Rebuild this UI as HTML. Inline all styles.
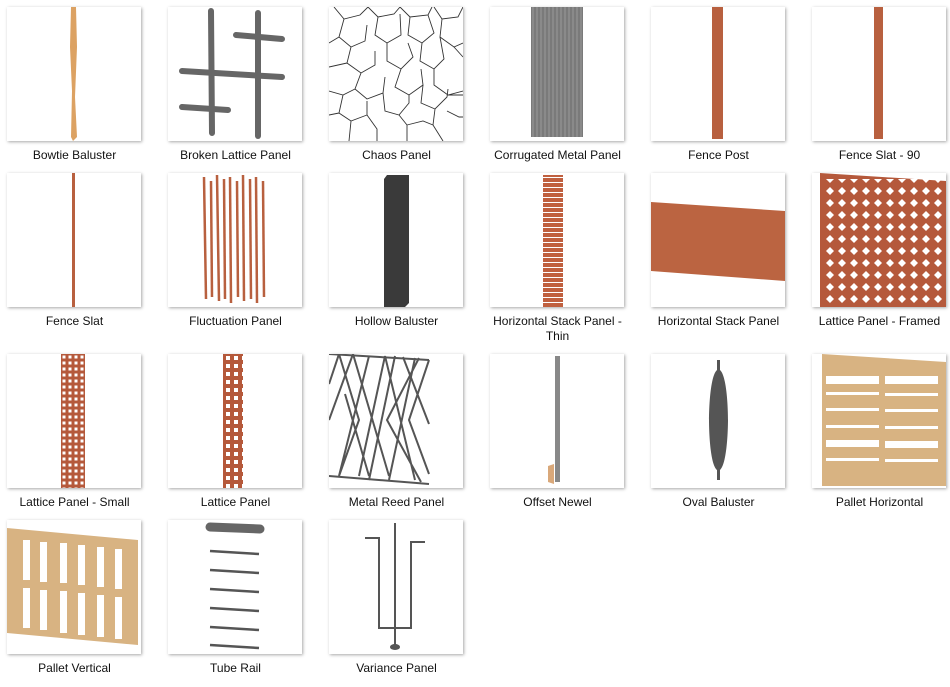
<!DOCTYPE html><html><head><style>
body{margin:0;width:950px;height:687px;background:#fff;position:relative;overflow:hidden;font-family:"Liberation Sans",sans-serif}
.t{position:absolute;width:134px;height:134px;background:#fff;box-shadow:1px 1px 3px rgba(0,0,0,.35)}
.t svg{position:absolute;left:0;top:0}
.l{position:absolute;width:161px;text-align:center;font-size:12px;color:#111;line-height:15px}
</style></head><body>
<!-- Row 1 -->
<div class="t" style="left:7px;top:7px"><svg width="134" height="134"><path d="M64 0h5l1 40-2 50 2 40-4 4-2-4 1-46-2-44z" fill="#dca263"/></svg></div>
<div class="l" style="left:-6px;top:148px">Bowtie Baluster</div>
<div class="t" style="left:168px;top:7px"><svg width="134" height="134" stroke="#666" stroke-width="6" stroke-linecap="round"><line x1="43" y1="4" x2="44" y2="126"/><line x1="90" y1="6" x2="90" y2="129"/><line x1="14" y1="64" x2="114" y2="70"/><line x1="68" y1="28" x2="114" y2="32"/><line x1="14" y1="100" x2="60" y2="103"/></svg></div>
<div class="l" style="left:155px;top:148px">Broken Lattice Panel</div>
<div class="t" style="left:329px;top:7px"><svg width="134" height="134" fill="none" stroke="#333" stroke-width="0.9">
<path d="M5 0l10 12 16-4 8-8M15 12l-5 18 12 10 14-6 2-16M39 0l10 10 16-3 6-7M49 10l-3 18 12 8 14-8-1-21M71 0l10 10 18-2 4-8M81 10l-2 18 14 8 12-10-6-18M105 0l8 12 16-2 5-10M113 12l-2 18 14 10 9-4"/>
<path d="M0 36l10-6M22 40l-4 16 14 10 14-8 0-14M58 36l0 18 14 8 12-12-5-14M93 36l-2 18 14 8 10-10 -4-22M125 40l9 10M0 60l18-4M32 66l-6 16 12 10 16-6 2-16M72 62l-6 18 14 8 14-10-2-16M105 62l0 16 14 10 15-4M0 84l14 4 12-6"/>
<path d="M14 88l-4 18 12 8 16-6 0-14M54 86l2 18 14 4 10-12 0-8M94 78l-2 18 14 6 12-12 1-8M118 88l16 0M0 108l10-2M22 114l-2 20M38 108l10 14 0 12M70 108l8 10 0 16M106 102l-2 16 10 16M118 104l12 6 4 0M78 118l16-4 10 4"/>
</svg></div>
<div class="l" style="left:316px;top:148px">Chaos Panel</div>
<div class="t" style="left:490px;top:7px"><svg width="134" height="134"><rect x="41" y="0" width="52" height="130" fill="#8a8a8a"/><rect x="41" y="0" width="52" height="130" fill="url(#c)"/><defs><pattern id="c" width="4" height="4" patternUnits="userSpaceOnUse"><rect width="2" height="4" fill="#7a7a7a"/></pattern></defs></svg></div>
<div class="l" style="left:477px;top:148px">Corrugated Metal Panel</div>
<div class="t" style="left:651px;top:7px"><svg width="134" height="134"><rect x="61" y="0" width="11" height="132" fill="#b8603f"/></svg></div>
<div class="l" style="left:638px;top:148px">Fence Post</div>
<div class="t" style="left:812px;top:7px"><svg width="134" height="134"><rect x="62" y="0" width="9" height="132" fill="#b8603f"/></svg></div>
<div class="l" style="left:799px;top:148px">Fence Slat - 90</div>
<!-- Row 2 -->
<div class="t" style="left:7px;top:173px"><svg width="134" height="134"><rect x="65" y="0" width="3" height="134" fill="#b8603f"/></svg></div>
<div class="l" style="left:-6px;top:314px">Fence Slat</div>
<div class="t" style="left:168px;top:173px"><svg width="134" height="134" stroke="#b8603f" stroke-width="2.5"><line x1="36" y1="4" x2="38" y2="126"/><line x1="43" y1="8" x2="44" y2="124"/><line x1="49" y1="2" x2="51" y2="128"/><line x1="56" y1="6" x2="57" y2="126"/><line x1="62" y1="4" x2="63" y2="130"/><line x1="69" y1="8" x2="70" y2="124"/><line x1="75" y1="2" x2="76" y2="128"/><line x1="82" y1="6" x2="83" y2="126"/><line x1="88" y1="4" x2="89" y2="130"/><line x1="95" y1="8" x2="96" y2="124"/></svg></div>
<div class="l" style="left:155px;top:314px">Fluctuation Panel</div>
<div class="t" style="left:329px;top:173px"><svg width="134" height="134"><path d="M55 6l3-4h22v128l-4 4h-21z" fill="#3a3a3a"/></svg></div>
<div class="l" style="left:316px;top:314px">Hollow Baluster</div>
<div class="t" style="left:490px;top:173px"><svg width="134" height="134"><rect x="53" y="2" width="20" height="132" fill="#c0603f"/><rect x="53" y="2" width="20" height="132" fill="url(#hs)"/><defs><pattern id="hs" width="4" height="5" patternUnits="userSpaceOnUse"><rect y="4" width="4" height="1.2" fill="#fff"/></pattern></defs></svg></div>
<div class="l" style="left:477px;top:314px">Horizontal Stack Panel -<br>Thin</div>
<div class="t" style="left:651px;top:173px"><svg width="134" height="134"><path d="M0 29l134 9v70l-134-10z" fill="#bb6441"/></svg></div>
<div class="l" style="left:638px;top:314px">Horizontal Stack Panel</div>
<div class="t" style="left:812px;top:173px"><svg width="134" height="134"><defs><pattern id="lf" width="12" height="12" patternUnits="userSpaceOnUse"><path d="M6 2l4 4-4 4-4-4z" fill="#fff"/></pattern></defs><path d="M8 0l126 8v127h-126z" fill="#b5593b"/><rect x="12" y="6" width="118" height="124" fill="url(#lf)"/></svg></div>
<div class="l" style="left:799px;top:314px">Lattice Panel - Framed</div>
<!-- Row 3 -->
<div class="t" style="left:7px;top:354px"><svg width="134" height="134"><defs><pattern id="ls" width="6" height="6" patternUnits="userSpaceOnUse"><rect width="6" height="6" fill="#b5593b"/><rect x="1.5" y="1.5" width="3" height="3" fill="#fff"/></pattern></defs><rect x="54" y="0" width="24" height="134" fill="url(#ls)"/></svg></div>
<div class="l" style="left:-6px;top:495px">Lattice Panel - Small</div>
<div class="t" style="left:168px;top:354px"><svg width="134" height="134"><defs><pattern id="lp" width="8" height="8" patternUnits="userSpaceOnUse"><rect width="8" height="8" fill="#b5593b"/><rect x="2" y="2" width="4" height="4" fill="#fff"/></pattern></defs><rect x="55" y="0" width="20" height="134" fill="url(#lp)"/></svg></div>
<div class="l" style="left:155px;top:495px">Lattice Panel</div>
<div class="t" style="left:329px;top:354px"><svg width="134" height="134" stroke="#555" stroke-width="2" fill="none"><line x1="0" y1="0" x2="100" y2="6"/><line x1="0" y1="122" x2="100" y2="130"/><path d="M10 0L30 66 10 122M10 0L0 30M24 0L0 66M24 0L60 122M40 2L10 122M56 2L86 126M56 2L30 122M66 2L40 126M74 3L100 70M86 4L60 126M90 4L58 66 92 128M100 6L80 66 100 120M16 40L40 122"/></svg></div>
<div class="l" style="left:316px;top:495px">Metal Reed Panel</div>
<div class="t" style="left:490px;top:354px"><svg width="134" height="134"><rect x="65" y="2" width="5" height="126" fill="#888"/><path d="M58 112l6-2 0 20-6-2z" fill="#d9a87a"/></svg></div>
<div class="l" style="left:477px;top:495px">Offset Newel</div>
<div class="t" style="left:651px;top:354px"><svg width="134" height="134"><path d="M66 6h3v10c7 6 8 40 8 50s-1 44-8 50v10h-3v-10c-7-6-8-40-8-50s1-44 8-50z" fill="#555"/></svg></div>
<div class="l" style="left:638px;top:495px">Oval Baluster</div>
<div class="t" style="left:812px;top:354px"><svg width="134" height="134"><path d="M10 0l124 8v124l-124 0z" fill="#d8b382"/><g fill="#fff"><rect x="14" y="22" width="53" height="8"/><rect x="73" y="22" width="53" height="8"/><rect x="14" y="38" width="53" height="3"/><rect x="73" y="39" width="53" height="3"/><rect x="14" y="54" width="53" height="3"/><rect x="73" y="55" width="53" height="3"/><rect x="14" y="71" width="53" height="3"/><rect x="73" y="72" width="53" height="3"/><rect x="14" y="86" width="53" height="7"/><rect x="73" y="87" width="53" height="7"/><rect x="14" y="104" width="53" height="3"/><rect x="73" y="105" width="53" height="3"/></g></svg></div>
<div class="l" style="left:799px;top:495px">Pallet Horizontal</div>
<!-- Row 4 -->
<div class="t" style="left:7px;top:520px"><svg width="134" height="134"><path d="M0 8l131 12v105l-131-12z" fill="#d8b382"/><g fill="#fff"><rect x="16" y="20" width="7" height="40"/><rect x="33" y="22" width="7" height="40"/><rect x="53" y="23" width="7" height="40"/><rect x="71" y="25" width="7" height="40"/><rect x="90" y="27" width="7" height="40"/><rect x="108" y="29" width="7" height="40"/><rect x="16" y="68" width="7" height="40"/><rect x="33" y="70" width="7" height="40"/><rect x="53" y="71" width="7" height="42"/><rect x="71" y="73" width="7" height="42"/><rect x="90" y="75" width="7" height="42"/><rect x="108" y="77" width="7" height="42"/></g></svg></div>
<div class="l" style="left:-6px;top:661px">Pallet Vertical</div>
<div class="t" style="left:168px;top:520px"><svg width="134" height="134" stroke="#555" stroke-width="2.5"><line x1="42" y1="7" x2="92" y2="9" stroke-width="9" stroke-linecap="round" stroke="#666"/><line x1="42" y1="31" x2="91" y2="34"/><line x1="42" y1="50" x2="91" y2="53"/><line x1="42" y1="69" x2="91" y2="72"/><line x1="42" y1="88" x2="91" y2="91"/><line x1="42" y1="107" x2="91" y2="110"/><line x1="42" y1="125" x2="91" y2="128"/></svg></div>
<div class="l" style="left:155px;top:661px">Tube Rail</div>
<div class="t" style="left:329px;top:520px"><svg width="134" height="134" stroke="#555" stroke-width="2" fill="none"><path d="M36 18h14v90h32v-86h14M66 3v124"/><ellipse cx="66" cy="127" rx="4" ry="2" fill="#555"/></svg></div>
<div class="l" style="left:316px;top:661px">Variance Panel</div>
</body></html>
